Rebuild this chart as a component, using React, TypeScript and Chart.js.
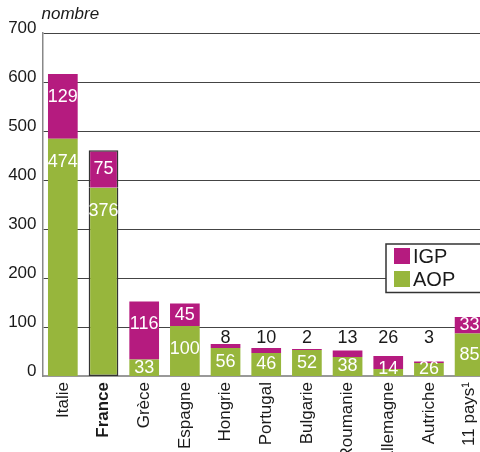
import { useEffect, useRef } from 'react';
import { Chart, registerables } from 'chart.js';

Chart.register(...registerables);

const categories = ['Italie', 'France', 'Grèce', 'Espagne', 'Hongrie', 'Portugal', 'Bulgarie', 'Roumanie', 'Allemagne', 'Autriche', '11 pays¹'];
const aopValues = [474, 376, 33, 100, 56, 46, 52, 38, 14, 26, 85];
const igpValues = [129, 75, 116, 45, 8, 10, 2, 13, 26, 3, 33];
const seriesNames = ['AOP', 'IGP'];
const yTickMin = 0;
const yTickMax = 700;
const yTickStep = 100;
// the bars in the reference are drawn on a slightly different scale than its gridlines
const barAxisMax = 685;
const unitLabel = 'nombre';
const highlightIndex = 1;

const GREEN = '#97b63c';
const MAGENTA = '#b51b7f';
const FONT = "'Liberation Sans', Arial, Helvetica, sans-serif";

const overlayPlugin = {
  id: 'overlay',
  afterDatasetsDraw(chart: any) {
    const ctx = chart.ctx;
    const m0 = chart.getDatasetMeta(0);
    const m1 = chart.getDatasetMeta(1);
    ctx.save();
    ctx.font = `18px ${FONT}`;
    ctx.textAlign = 'center';
    ctx.textBaseline = 'middle';
    // AOP labels
    m0.data.forEach((bar: any, i: number) => {
      const top = bar.y, base = bar.base;
      let y = Math.min((top + base) / 2, top + 23);
      y = Math.min(y, base - 7);
      ctx.fillStyle = '#ffffff';
      ctx.fillText(String(chart.data.datasets[0].data[i]), bar.x, y);
    });
    // IGP labels
    const outside: number[] = [];
    m1.data.forEach((bar: any, i: number) => {
      if (bar.base - bar.y < 15) outside.push(i);
    });
    const outBase = outside.length ? Math.min(...outside.map((i) => m1.data[i].y - 1)) : 0;
    m1.data.forEach((bar: any, i: number) => {
      const txt = String(chart.data.datasets[1].data[i]);
      if (outside.includes(i)) {
        ctx.fillStyle = '#1a1a1a';
        ctx.textBaseline = 'alphabetic';
        ctx.fillText(txt, bar.x, outBase);
      } else {
        ctx.fillStyle = '#ffffff';
        ctx.textBaseline = 'middle';
        const y = Math.min((bar.y + bar.base) / 2, bar.y + 23);
        ctx.fillText(txt, bar.x, y);
      }
    });
    ctx.restore();
  },
  afterDraw(chart: any) {
    const ctx = chart.ctx;
    const area = chart.chartArea;
    ctx.save();
    // unit label
    ctx.font = `italic 17px ${FONT}`;
    ctx.fillStyle = '#1a1a1a';
    ctx.textAlign = 'left';
    ctx.textBaseline = 'alphabetic';
    ctx.fillText(unitLabel, area.left - 1, 19);
    // legend
    const lx = 386, ly = 244, lw = 120, lh = 48.5;
    ctx.fillStyle = '#ffffff';
    ctx.fillRect(lx, ly, lw, lh);
    ctx.strokeStyle = '#333333';
    ctx.lineWidth = 1.5;
    ctx.strokeRect(lx, ly, lw, lh);
    const items = [1, 0];
    ctx.font = `20px ${FONT}`;
    ctx.textBaseline = 'middle';
    items.forEach((di, k) => {
      const ds = chart.data.datasets[di];
      const sy = ly + 4 + k * 23;
      ctx.fillStyle = ds.backgroundColor;
      ctx.fillRect(lx + 8, sy, 16, 16);
      ctx.fillStyle = '#1a1a1a';
      ctx.fillText(ds.label, lx + 27, sy + 9);
    });
    ctx.restore();
  },
};

export default function App() {
  const ref = useRef<HTMLCanvasElement>(null);
  useEffect(() => {
    const chart = new Chart(ref.current!, {
      type: 'bar',
      data: {
        labels: categories,
        datasets: [
          {
            label: seriesNames[0],
            data: aopValues,
            backgroundColor: GREEN,
            borderColor: (c: any) => (c.dataIndex === highlightIndex ? '#333333' : 'rgba(0,0,0,0)'),
            borderWidth: (c: any) => (c.dataIndex === highlightIndex ? 1.5 : 0),
            borderSkipped: 'top',
            yAxisID: 'y',
          },
          {
            label: seriesNames[1],
            data: igpValues,
            backgroundColor: MAGENTA,
            borderColor: (c: any) => (c.dataIndex === highlightIndex ? '#333333' : 'rgba(0,0,0,0)'),
            borderWidth: (c: any) => (c.dataIndex === highlightIndex ? 1.5 : 0),
            borderSkipped: 'bottom',
            yAxisID: 'y',
          },
        ],
      } as any,
      options: {
        responsive: false,
        animation: false,
        devicePixelRatio: 1,
        layout: { padding: { top: 33, left: 0, right: 0, bottom: 0 } },
        datasets: { bar: { barPercentage: 0.73, categoryPercentage: 1 } },
        plugins: { legend: { display: false }, tooltip: { enabled: false }, title: { display: false } },
        scales: {
          x: {
            stacked: true,
            grid: { display: false, drawTicks: false },
            border: { display: true, color: '#999999', width: 2 },
            ticks: {
              autoSkip: false,
              minRotation: 90,
              maxRotation: 90,
              padding: 6,
              color: '#1a1a1a',
              font: (c: any) => ({ family: FONT, size: 17, weight: c.index === highlightIndex ? 'bold' : 'normal' }),
            },
            afterFit: (s: any) => {
              s.height = 76;
            },
          },
          y: {
            stacked: true,
            display: false,
            min: yTickMin,
            max: barAxisMax,
          },
          yGrid: {
            type: 'linear',
            axis: 'y',
            position: 'left',
            min: yTickMin,
            max: yTickMax,
            grid: {
              drawTicks: false,
              color: (c: any) => (c.tick && c.tick.value === 0 ? '#999999' : '#444444'),
              lineWidth: 1,
            },
            border: { display: true, color: '#888888', width: 1.5 },
            ticks: {
              stepSize: yTickStep,
              padding: 6,
              labelOffset: -5,
              color: '#1a1a1a',
              font: { family: FONT, size: 17 },
            },
            afterFit: (s: any) => {
              s.width = 42.5;
            },
          },
        } as any,
      },
      plugins: [overlayPlugin],
    });
    return () => chart.destroy();
  }, []);
  return (
    <div style={{ position: 'fixed', left: 0, top: 0, width: 480, height: 452, overflow: 'hidden', background: '#ffffff' }}>
      <canvas ref={ref} width={496} height={452} style={{ display: 'block' }} />
    </div>
  );
}
